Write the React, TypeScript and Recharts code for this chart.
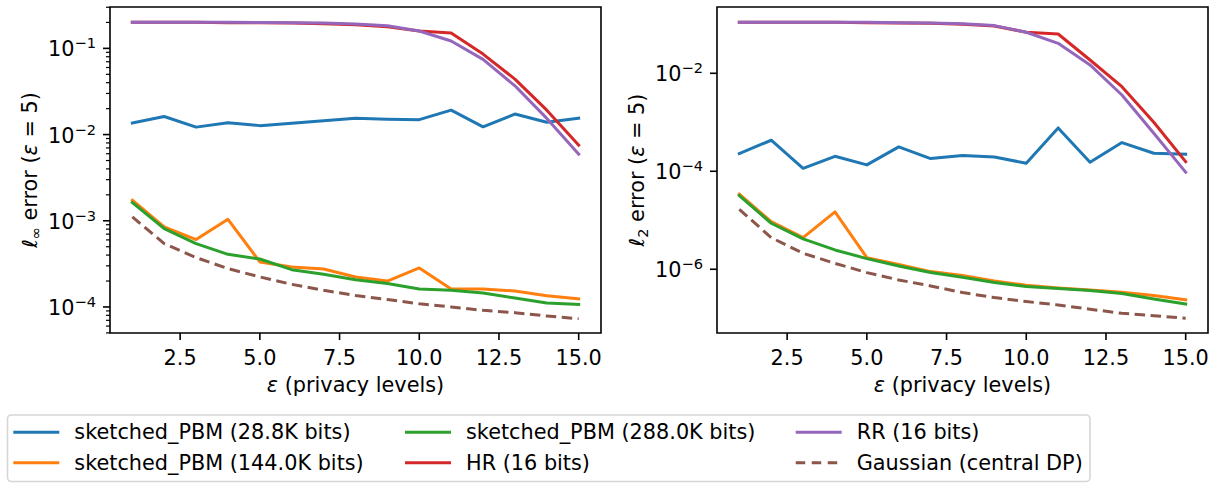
import React from 'react';
import { LineChart, Line, XAxis, YAxis, ReferenceArea } from 'recharts';

// ---------- data ----------
const epsilons = [1, 2, 3, 4, 5, 6, 7, 8, 9, 10, 11, 12, 13, 14, 15];

// left panel: l_inf error
const linfPBM28 = [0.0136, 0.0162, 0.0122, 0.0137, 0.0127, 0.0135, 0.0145, 0.0155, 0.0151, 0.0149, 0.0192, 0.0123, 0.0173, 0.0139, 0.0155];
const linfPBM144 = [0.00173, 0.000849, 0.000605, 0.00104, 0.000333, 0.000291, 0.000276, 0.000223, 0.0002, 0.000284, 0.000162, 0.000162, 0.000153, 0.000135, 0.000124];
const linfPBM288 = [0.00163, 0.000811, 0.000543, 0.000408, 0.00036, 0.000271, 0.000239, 0.000207, 0.000187, 0.000162, 0.000156, 0.000145, 0.000127, 0.000111, 0.000107];
const linfHR = [0.2004, 0.2004, 0.2004, 0.1986, 0.1986, 0.1968, 0.1932, 0.1882, 0.1786, 0.159, 0.1507, 0.0859, 0.044, 0.0192, 0.00753];
const linfRR = [0.2004, 0.2004, 0.2004, 0.2004, 0.2, 0.1986, 0.1968, 0.192, 0.1834, 0.159, 0.1216, 0.0745, 0.0368, 0.0154, 0.00593];
const linfGauss = [0.00111, 0.000543, 0.000374, 0.000279, 0.000223, 0.000183, 0.000156, 0.000136, 0.000122, 0.000109, 0.0001, 0.0000914, 0.0000859, 0.0000786, 0.0000731];

// right panel: l_2 error
const l2PBM28 = [0.00023, 0.00043, 0.000115, 0.000202, 0.000135, 0.000314, 0.000182, 0.000209, 0.000196, 0.000146, 0.000766, 0.000153, 0.000385, 0.000233, 0.000222];
const l2PBM144 = [3.4e-5, 9.4e-6, 4.43e-6, 1.48e-5, 1.73e-6, 1.26e-6, 8.96e-7, 7.43e-7, 5.78e-7, 4.71e-7, 4.16e-7, 3.79e-7, 3.39e-7, 2.9e-7, 2.37e-7];
const l2PBM288 = [3.18e-5, 8.69e-6, 4.16e-6, 2.48e-6, 1.65e-6, 1.17e-6, 8.55e-7, 6.87e-7, 5.35e-7, 4.43e-7, 4.03e-7, 3.67e-7, 3.19e-7, 2.48e-7, 1.96e-7];
const l2HR = [0.11, 0.11, 0.11, 0.11, 0.108, 0.1064, 0.1047, 0.1, 0.0925, 0.0687, 0.0635, 0.0187, 0.00534, 0.001, 0.000157];
const l2RR = [0.11, 0.11, 0.11, 0.11, 0.11, 0.108, 0.1064, 0.103, 0.094, 0.0687, 0.0409, 0.0148, 0.00361, 0.000597, 9.55e-5];
const l2Gauss = [1.67e-5, 4.43e-6, 2.12e-6, 1.32e-6, 8.55e-7, 6.05e-7, 4.57e-7, 3.34e-7, 2.64e-7, 2.19e-7, 1.87e-7, 1.53e-7, 1.26e-7, 1.13e-7, 1.0e-7];

const seriesKeys = ['pbm28', 'pbm144', 'pbm288', 'hr', 'rr', 'gauss'];
const seriesNames = [
  'sketched_PBM (28.8K bits)',
  'sketched_PBM (144.0K bits)',
  'sketched_PBM (288.0K bits)',
  'HR (16 bits)',
  'RR (16 bits)',
  'Gaussian (central DP)',
];
const seriesColors = ['#1f77b4', '#ff7f0e', '#2ca02c', '#d62728', '#9467bd', '#8c564b'];
const seriesDashed = [false, false, false, false, false, true];

const xTicks = [2.5, 5, 7.5, 10, 12.5, 15];
const xDomain = [0.3, 15.7];
const linfYTicks = [
  5e-5, 6e-5, 7e-5, 8e-5, 9e-5,
  1e-4, 2e-4, 3e-4, 4e-4, 5e-4, 6e-4, 7e-4, 8e-4, 9e-4,
  1e-3, 2e-3, 3e-3, 4e-3, 5e-3, 6e-3, 7e-3, 8e-3, 9e-3,
  1e-2, 2e-2, 3e-2, 4e-2, 5e-2, 6e-2, 7e-2, 8e-2, 9e-2,
  1e-1, 2e-1, 3e-1,
];
const linfYDomain = [4.99e-5, 0.302];
const l2YTicks = [1e-6, 1e-4, 1e-2];
const l2YDomain = [5.0e-8, 0.2255];

const buildRows = (vals: number[][]) =>
  epsilons.map((e, i) => {
    const row: Record<string, number> = { eps: e };
    seriesKeys.forEach((k, j) => {
      row[k] = vals[j][i];
    });
    return row;
  });

const linfData = buildRows([linfPBM28, linfPBM144, linfPBM288, linfHR, linfRR, linfGauss]);
const l2Data = buildRows([l2PBM28, l2PBM144, l2PBM288, l2HR, l2RR, l2Gauss]);

const FONT = 'DejaVu Sans, sans-serif';
const FS = 20.8;
const FS_SMALL = 14.6;

// ---------- ticks ----------
const XTick = (props: any) => {
  const { x, y, payload } = props;
  return (
    <g>
      <line x1={x} x2={x} y1={y} y2={y + 7} stroke="#000" strokeWidth={1.6} />
      <text x={x} y={y + 32} textAnchor="middle" fontSize={FS} fill="#000" fontFamily={FONT}>
        {Number(payload.value).toFixed(1)}
      </text>
    </g>
  );
};

const YTick = (props: any) => {
  const { x, y, payload } = props;
  const l = Math.log10(payload.value);
  const major = Math.abs(l - Math.round(l)) < 1e-6;
  const len = major ? 7 : 4;
  return (
    <g>
      <line x1={x - len} x2={x} y1={y} y2={y} stroke="#000" strokeWidth={major ? 1.6 : 1.2} />
      {major && (
        <text x={x - 14} y={y + 8} textAnchor="end" fontSize={FS} fill="#000" fontFamily={FONT}>
          10
          <tspan fontSize={FS_SMALL} dy={-8}>
            {'\u2212' + Math.abs(Math.round(l))}
          </tspan>
        </text>
      )}
    </g>
  );
};

const XTitle = (props: any) => {
  const vb = props.viewBox || { x: 110, y: 333, width: 491 };
  return (
    <text x={vb.x + vb.width / 2} y={vb.y + 59} textAnchor="middle" fontSize={FS} fill="#000" fontFamily={FONT}>
      <tspan fontStyle="italic">ε</tspan>
      <tspan> (privacy levels)</tspan>
    </text>
  );
};

const YTitle = (props: any) => {
  const vb = props.viewBox || { x: 0, y: 7, width: 110, height: 326 };
  const cx = vb.x + vb.width - 73;
  const cy = vb.y + vb.height / 2;
  return (
    <text
      transform={`translate(${cx},${cy}) rotate(-90)`}
      textAnchor="middle"
      fontSize={FS}
      fill="#000"
      fontFamily={FONT}
    >
      <tspan fontStyle="italic">ℓ</tspan>
      <tspan fontSize={FS_SMALL} dy={4}>
        {props.sub}
      </tspan>
      <tspan dy={-4}> error (</tspan>
      <tspan fontStyle="italic">ε</tspan>
      <tspan> = 5)</tspan>
    </text>
  );
};

// ---------- panel ----------
const Panel = (props: any) => {
  const { data, yTicks, yDomain, sub, width, yAxisWidth, right } = props;
  return (
    <LineChart width={width} height={400} data={data} margin={{ top: 7, right, bottom: 0, left: 0 }}>
      <XAxis
        dataKey="eps"
        type="number"
        domain={xDomain}
        ticks={xTicks}
        allowDataOverflow
        axisLine={false}
        tickLine={false}
        tickSize={0}
        tickMargin={0}
        interval={0}
        height={67}
        tick={<XTick />}
        label={<XTitle />}
      />
      <YAxis
        type="number"
        scale="log"
        domain={yDomain}
        ticks={yTicks}
        allowDataOverflow
        axisLine={false}
        tickLine={false}
        tickSize={0}
        tickMargin={0}
        interval={0}
        width={yAxisWidth}
        tick={<YTick />}
        label={<YTitle sub={sub} />}
      />
      {seriesKeys.map((k, i) => (
        <Line
          key={k}
          type="linear"
          dataKey={k}
          stroke={seriesColors[i]}
          strokeWidth={3}
          strokeDasharray={seriesDashed[i] ? '10.5 5.5' : undefined}
          strokeLinecap={seriesDashed[i] ? 'butt' : 'square'}
          strokeLinejoin="round"
          dot={false}
          activeDot={false}
          isAnimationActive={false}
        />
      ))}
      <ReferenceArea
        x1={xDomain[0]}
        x2={xDomain[1]}
        y1={yDomain[0]}
        y2={yDomain[1]}
        fill="none"
        fillOpacity={0}
        stroke="#000"
        strokeWidth={1.6}
        ifOverflow="visible"
      />
    </LineChart>
  );
};

// ---------- legend ----------
const legendColX = [13.3, 405, 795.7];
const legendRowY = [432.3, 462.7];

const LegendBox = () => (
  <svg width={1221} height={483} style={{ position: 'absolute', left: 0, top: 0, pointerEvents: 'none' }}>
    <rect x={7.5} y={415} width={1082.5} height={66.5} rx={4} ry={4} fill="#fff" stroke="#d6d6d6" strokeWidth={1.6} />
    {seriesNames.map((name, i) => {
      const col = Math.floor(i / 2);
      const row = i % 2;
      const x = legendColX[col];
      const y = legendRowY[row];
      return (
        <g key={name}>
          <line
            x1={x}
            x2={x + 46}
            y1={y}
            y2={y}
            stroke={seriesColors[i]}
            strokeWidth={3}
            strokeDasharray={seriesDashed[i] ? '9.5 6.5' : undefined}
            strokeLinecap="butt"
          />
          <text x={x + 61} y={y + 7} fontSize={FS} fill="#000" fontFamily={FONT}>
            {name}
          </text>
        </g>
      );
    })}
  </svg>
);

export default function App() {
  return (
    <div style={{ position: 'absolute', left: 0, top: 0, width: 1221, height: 483, background: '#fff', fontFamily: FONT }}>
      <div style={{ position: 'absolute', left: 0, top: 0 }}>
        <Panel data={linfData} yTicks={linfYTicks} yDomain={linfYDomain} sub="∞" width={620} yAxisWidth={110} right={19} />
      </div>
      <div style={{ position: 'absolute', left: 610, top: 0 }}>
        <Panel data={l2Data} yTicks={l2YTicks} yDomain={l2YDomain} sub="2" width={611} yAxisWidth={107} right={13} />
      </div>
      <LegendBox />
    </div>
  );
}
